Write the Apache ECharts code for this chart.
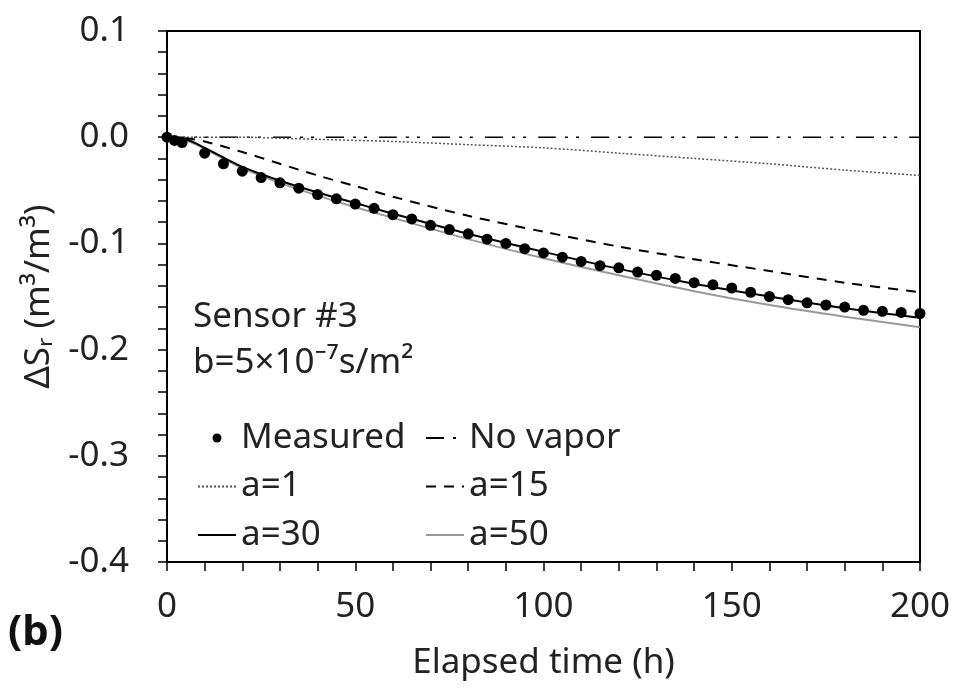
<!DOCTYPE html>
<html>
<head>
<meta charset="utf-8">
<script src="https://cdn.jsdelivr.net/npm/echarts@6/dist/echarts.min.js"></script>
<style>
  html, body { margin: 0; padding: 0; background: #fff; }
  #chart { width: 955px; height: 695px; }
</style>
</head>
<body>
<div id="chart"></div>
<script>
// measured points
const measTime = [0, 2, 4, 10, 15, 20, 25, 30, 35, 40, 45, 50, 55, 60, 65, 70, 75, 80, 85, 90, 95,
  100, 105, 110, 115, 120, 125, 130, 135, 140, 145, 150, 155, 160, 165, 170, 175, 180, 185, 190, 195, 200]
const measured = [0, -0.003, -0.005, -0.015, -0.025, -0.032, -0.038, -0.043, -0.048, -0.054, -0.058,
  -0.063, -0.067, -0.073, -0.077, -0.083, -0.087, -0.091, -0.096, -0.100, -0.105,
  -0.109, -0.113, -0.117, -0.121, -0.123, -0.127, -0.130, -0.133, -0.137, -0.139,
  -0.142, -0.146, -0.150, -0.153, -0.156, -0.158, -0.160, -0.163, -0.164, -0.165, -0.166]

// simulated curves
const simTime = [0, 5, 10, 20, 30, 40, 50, 60, 80, 100, 120, 140, 160, 180, 200]
const noVapor = [0, 0, 0, 0, 0, 0, 0, 0, 0, 0, 0, 0, 0, 0, 0]
const a1 = [0, 0, 0, 0, -0.001, -0.002, -0.003, -0.004, -0.007, -0.010, -0.015, -0.020, -0.025, -0.031, -0.036]
const a15 = [0, -0.001, -0.004, -0.014, -0.025, -0.036, -0.046, -0.056, -0.074, -0.089, -0.103, -0.115, -0.126, -0.137, -0.146]
const a30 = [0, -0.002, -0.010, -0.028, -0.041, -0.052, -0.062, -0.072, -0.091, -0.108, -0.124, -0.138, -0.150, -0.161, -0.170]
const a50 = [0, -0.003, -0.011, -0.029, -0.043, -0.055, -0.066, -0.076, -0.096, -0.114, -0.130, -0.145, -0.158, -0.169, -0.179]

const FONT = 'Noto Sans'
const TXT = '#222'

const pairs = (xs, ys) => xs.map((x, i) => [x, ys[i]])

const lineSeries = (name, ys, color, type, width, z) => ({
  name: name,
  type: 'line',
  data: pairs(simTime, ys),
  symbol: 'none',
  smooth: 0.3,
  z: z,
  lineStyle: { color: color, type: type, width: width },
  itemStyle: { color: color }
})

// legend entry for a line series: hide the little marker ECharts draws on it
const lineItem = name => ({ name: name, itemStyle: { opacity: 0 } })

const chart = echarts.init(document.getElementById('chart'))

const legendBase = {
  orient: 'vertical',
  top: 413,
  itemWidth: 38,
  itemHeight: 9,
  itemGap: 8.5,
  selectedMode: false,
  textStyle: { fontFamily: FONT, fontSize: 35, color: TXT, lineHeight: 40 }
}

chart.setOption({
  animation: false,
  backgroundColor: '#fff',
  grid: {
    left: 167, right: 35, top: 31, bottom: 133,
    show: true, borderColor: '#000', borderWidth: 2
  },
  xAxis: {
    type: 'value',
    min: 0, max: 200, interval: 50,
    name: 'Elapsed time (h)',
    nameLocation: 'middle',
    nameGap: 84,
    nameTextStyle: { fontFamily: FONT, fontSize: 35, color: TXT },
    axisLine: { onZero: false, lineStyle: { color: '#000', width: 2 } },
    axisTick: { length: 9, lineStyle: { color: '#000', width: 1.5 } },
    minorTick: { show: true, splitNumber: 5, length: 9, lineStyle: { color: '#000', width: 1.5 } },
    splitLine: { show: false },
    axisLabel: { fontFamily: FONT, fontSize: 35, color: TXT, margin: 28 }
  },
  yAxis: {
    type: 'value',
    min: -0.4, max: 0.1, interval: 0.1,
    name: 'ΔSᵣ (m³/m³)',
    nameLocation: 'middle',
    nameGap: 110,
    nameTextStyle: { fontFamily: FONT, fontSize: 35, color: TXT },
    axisLine: { onZero: false, lineStyle: { color: '#000', width: 2 } },
    axisTick: { length: 9, lineStyle: { color: '#000', width: 1.5 } },
    minorTick: { show: true, splitNumber: 5, length: 9, lineStyle: { color: '#000', width: 1.5 } },
    splitLine: { show: false },
    axisLabel: {
      fontFamily: FONT, fontSize: 35, color: TXT, margin: 38,
      formatter: v => v.toFixed(1)
    }
  },
  legend: [
    Object.assign({}, legendBase, { left: 192, data: ['Measured', lineItem('a=1'), lineItem('a=30')] }),
    Object.assign({}, legendBase, { left: 420, data: [lineItem('No vapor'), lineItem('a=15'), lineItem('a=50')] })
  ],
  graphic: [
    { type: 'text', left: 193, top: 300, style: { text: 'Sensor #3', fontFamily: FONT, fontSize: 35, fill: TXT } },
    { type: 'text', left: 193, top: 346, style: { text: 'b=5×10⁻⁷s/m²', fontFamily: FONT, fontSize: 35, fill: TXT } },
    { type: 'text', left: 8, top: 612, style: { text: '(b)', fontFamily: FONT, fontSize: 42, fontWeight: 'bold', fill: '#111' } }
  ],
  series: [
    lineSeries('No vapor', noVapor, '#000', [18, 9, 3, 8, 3, 12], 1.5, 2),
    lineSeries('a=1', a1, '#555', [2, 2], 1.5, 2),
    lineSeries('a=15', a15, '#000', [10, 8], 2, 2),
    lineSeries('a=50', a50, '#999', 'solid', 2, 2),
    lineSeries('a=30', a30, '#000', 'solid', 2, 3),
    {
      name: 'Measured',
      type: 'scatter',
      data: pairs(measTime, measured),
      symbol: 'circle',
      symbolSize: 11,
      z: 5,
      itemStyle: { color: '#000', opacity: 1 }
    }
  ]
})
</script>
</body>
</html>
